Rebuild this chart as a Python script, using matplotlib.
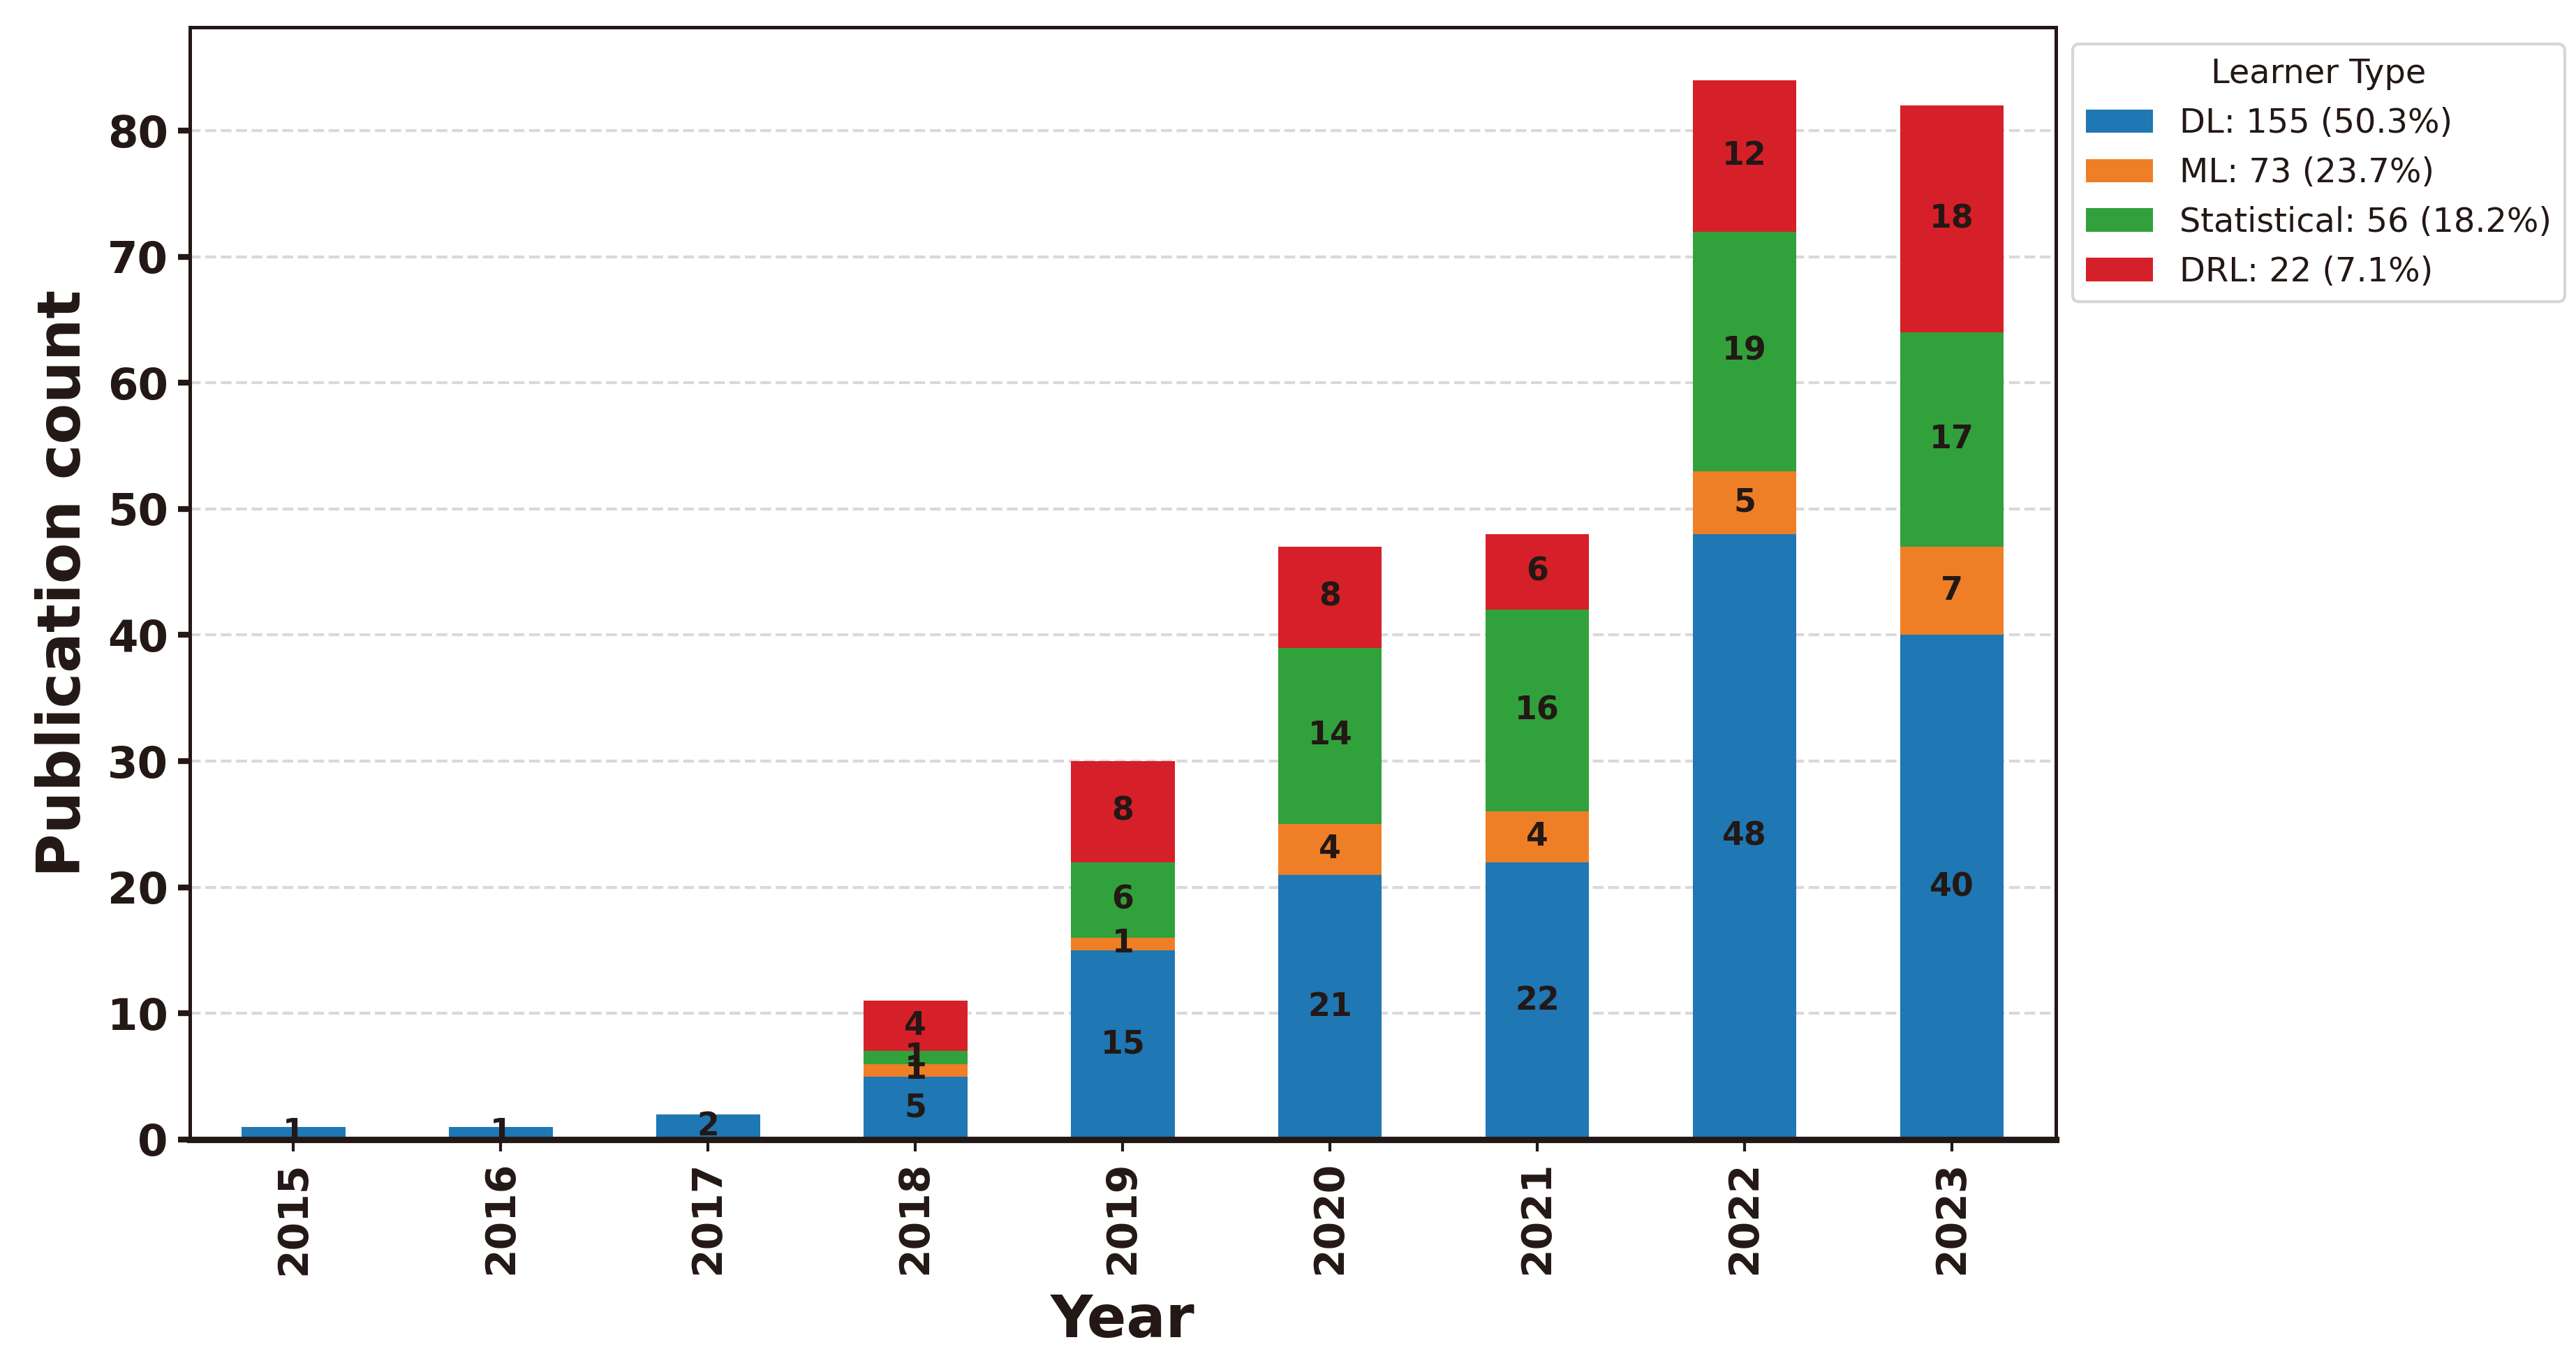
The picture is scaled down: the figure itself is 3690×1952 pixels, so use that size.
import matplotlib.pyplot as plt
import numpy as np

years = ['2015', '2016', '2017', '2018', '2019', '2020', '2021', '2022', '2023']
dl = [1, 1, 2, 5, 15, 21, 22, 48, 40]
ml = [0, 0, 0, 1, 1, 4, 4, 5, 7]
statistical = [0, 0, 0, 1, 6, 14, 16, 19, 17]
drl = [0, 0, 0, 4, 8, 8, 6, 12, 18]
legend_labels = ['DL: 155 (50.3%)', 'ML: 73 (23.7%)', 'Statistical: 56 (18.2%)', 'DRL: 22 (7.1%)']

colors = ['#1f77b4', '#ef7f27', '#31a13c', '#d62029']
text_color = '#231815'

plt.rcParams['font.family'] = ['DejaVu Sans']
plt.rcParams['text.color'] = text_color
plt.rcParams['axes.labelcolor'] = text_color
plt.rcParams['xtick.color'] = text_color
plt.rcParams['ytick.color'] = text_color

fig = plt.figure(figsize=(12.3, 1952 / 300))
ax = fig.add_axes([0.0737, 0.164, 0.7243, 0.816])

x = np.arange(len(years))
width = 0.5
bottom = np.zeros(len(years))
handles = []
for values, color, label in zip([dl, ml, statistical, drl], colors, legend_labels):
    bars = ax.bar(x, values, width, bottom=bottom, color=color, label=label, zorder=2)
    handles.append(bars)
    ax.bar_label(bars, labels=[str(v) if v > 0 else '' for v in values],
                 label_type='center', fontsize=11, fontweight='bold', color=text_color)
    bottom += np.array(values)

ax.set_xlim(-0.5, len(years) - 0.5)
ax.set_ylim(0, max(bottom) * 1.05)
ax.set_xticks(x)
ax.set_xticklabels(years, rotation=90, fontsize=14, fontweight='bold')
ax.set_yticks(np.arange(0, 90, 10))
for lbl in ax.get_yticklabels():
    lbl.set_fontsize(15)
    lbl.set_fontweight('bold')

ax.set_xlabel('Year', fontsize=20, fontweight='bold', labelpad=6)
ax.set_ylabel('Publication count', fontsize=20.5, fontweight='bold', labelpad=5)
ax.grid(axis='y', linestyle='--', color='#d9d9d9', linewidth=1, zorder=0)
ax.set_axisbelow(True)

for side in ['left', 'right', 'top']:
    ax.spines[side].set_color(text_color)
    ax.spines[side].set_linewidth(1.2)
ax.spines['bottom'].set_color(text_color)
ax.spines['bottom'].set_linewidth(2.2)
ax.tick_params(axis='y', width=2.0, length=4)
ax.tick_params(axis='x', width=1.0, length=4)

leg = ax.legend(handles, legend_labels, title='Learner Type', loc='upper left',
                bbox_to_anchor=(1.0, 1.0), fontsize=11.5, title_fontsize=11.5)

fig.savefig('out.png', dpi=300)
